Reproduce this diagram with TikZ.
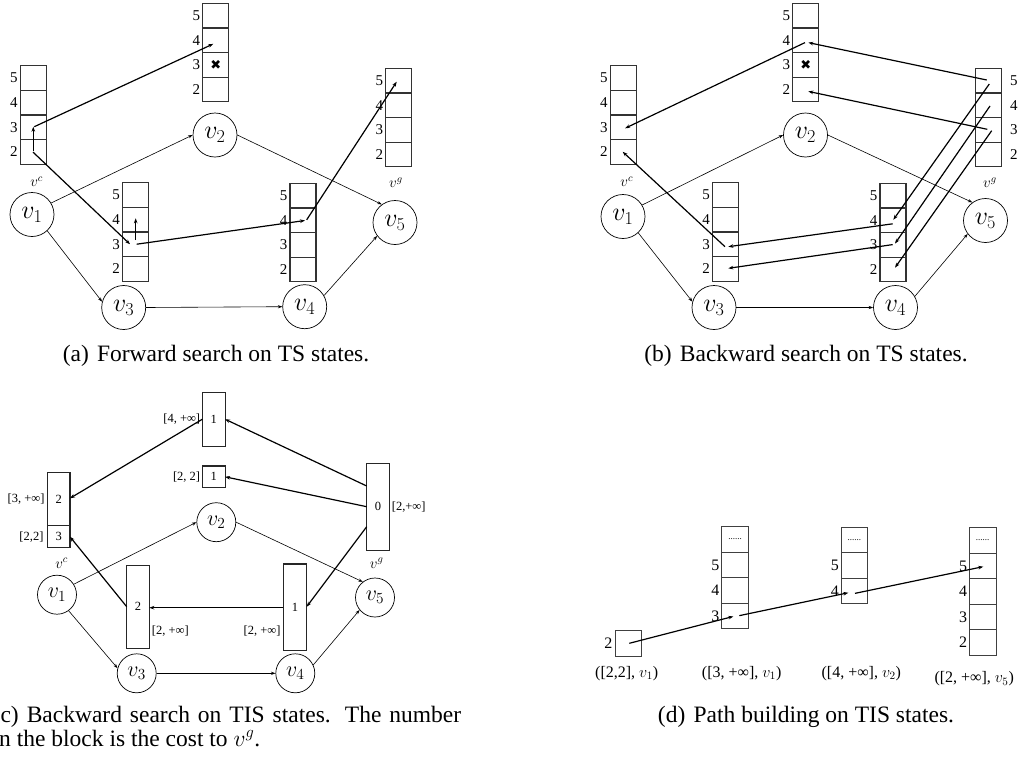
\documentclass[tikz,border=0pt]{standalone}
\usepackage{fix-cm}
\usepackage{fontspec}
\setmainfont{Liberation Serif}
\newfontfamily\dejavu{DejaVu Sans}
\usetikzlibrary{arrows.meta,calc}
\newcommand{\blkL}[4]{%
  \foreach \l [count=\i] in {#4} {%
    \node[cell] (#1-\l) at (#2,{#3+(\i-0.5)*24.6}) {};
    \node[clab,anchor=east] at ([xshift=-2.5pt]#1-\l.west) {\l};
  }}
\newcommand{\blkR}[4]{%
  \foreach \l [count=\i] in {#4} {%
    \node[cell] (#1-\l) at (#2,{#3+(\i-0.5)*24.6}) {};
    \node[clab,anchor=west] at ([xshift=8pt]#1-\l.east) {\l};
  }}
\newcommand{\blkD}[4]{%
  \node[dcell,font=\fontsize{9}{9}\selectfont] (#1-top) at (#2,{#3+12.75}) {......};
  \foreach \l [count=\i] in {#4} {%
    \node[dcell] (#1-\l) at (#2,{#3+(\i+0.5)*25.5}) {};
    \node[dlab,anchor=east] at ([xshift=-2pt]#1-\l.west) {\l};
  }}
\begin{document}
\begin{tikzpicture}[x=1pt,y=-1pt,
  cell/.style={draw=black!80, line width=1.2pt, minimum width=26pt, minimum height=24.6pt, inner sep=0pt, outer sep=0pt},
  dcell/.style={draw=black!75, line width=0.8pt, minimum width=26.7pt, minimum height=25.5pt, inner sep=0pt, outer sep=0pt},
  clab/.style={inner sep=0pt, font=\fontsize{15}{15}\selectfont},
  dlab/.style={inner sep=0pt, font=\fontsize{16}{16}\selectfont},
  dcap/.style={inner sep=0pt, font=\fontsize{16}{16}\selectfont},
  vtx/.style={circle, draw, line width=0.7pt, minimum size=44pt, inner sep=0pt, font=\fontsize{26}{26}\selectfont},
  cvtx/.style={vtx, minimum size=39pt, font=\fontsize{22}{22}\selectfont},
  vlab/.style={inner sep=0pt, font=\fontsize{15}{15}\selectfont},
  gedge/.style={line width=0.6pt, -{Stealth[length=4.5pt,width=3.2pt]}},
  trail/.style={line width=1.2pt, -{Stealth[length=5pt,width=3.6pt]}},
  tis/.style={draw=black!85, line width=1.1pt, inner sep=0pt, outer sep=0pt, font=\fontsize{12.5}{12.5}\selectfont},
  tlab/.style={inner sep=0pt, font=\fontsize{12.5}{12.5}\selectfont},
  captxt/.style={inner sep=0pt, font=\fontsize{23.5}{23.5}\selectfont},
  xmark/.style={inner sep=0pt, font=\dejavu\fontsize{13}{13}\selectfont}
]
\useasboundingbox (0,0) rectangle (1021,758);

% ---------------- Panel (a) ----------------
\blkL{aC}{33.3}{65.7}{5,4,3,2}
\blkL{aT}{215.7}{3.3}{5,4,3,2}
\node[xmark] (ax) at (aT-3.center) {✖};
\blkL{aG}{398.8}{68.3}{5,4,3,2}
\blkL{aL}{135.5}{182.7}{5,4,3,2}
\blkL{aR}{303}{183.3}{5,4,3,2}
\node[vtx] (a1) at (32,214.5) {$v_1$};
\node[vtx] (a2) at (215,135) {$v_2$};
\node[vtx] (a3) at (123.7,307.5) {$v_3$};
\node[vtx] (a4) at (304.7,306.7) {$v_4$};
\node[vtx] (a5) at (395,222.5) {$v_5$};
\node[vlab] (ac) at (36.7,181.7) {$v^c$};
\node[vlab] (ag) at (396,183) {$v^g$};
\draw[gedge] (a1.31) -- (a2.180);
\draw[gedge] (a2.0) -- (a5.126);
\draw[gedge] (a1.-47) -- (a3.165);
\draw[gedge] (a3.east) -- (a4.west);
\draw[gedge] (a4.30) -- (a5.217);
\draw[trail] ($(aC-2.center)+(0,-1)$) -- ($(aC-3.center)+(0,-0.5)$);
\draw[trail] ($(aC-3.center)+(1,-0.5)$) -- ($(aT-4.center)+(-2.4,3.7)$);
\draw[trail] ($(aC-2.center)+(-0.3,0.3)$) -- ($(aL-3.center)+(-5.5,0)$);
\draw[trail] ($(aL-3.center)+(0.2,-4.2)$) -- ($(aL-4.center)+(0.2,-1.3)$);
\draw[trail] ($(aL-3.center)+(1.2,0)$) -- ($(aR-4.center)+(2,0.3)$);
\draw[trail] ($(aR-4.center)+(3.7,-0.4)$) -- ($(aG-5.center)+(-2.1,1.1)$);
\node[captxt, anchor=base] (capa) at (216,361) {(a)\hspace{0.35em}Forward search on TS states.};

% ---------------- Panel (b) ----------------
\blkL{bC}{623.3}{65.7}{5,4,3,2}
\blkL{bT}{805.7}{3.3}{5,4,3,2}
\node[xmark] (bx) at (bT-3.center) {✖};
\blkR{bG}{988.8}{68.3}{5,4,3,2}
\blkL{bL}{725.5}{182.7}{5,4,3,2}
\blkL{bR}{893}{183.3}{5,4,3,2}
\node[vtx] (b1) at (623,216.5) {$v_1$};
\node[vtx] (b2) at (805.5,135) {$v_2$};
\node[vtx] (b3) at (714,307.5) {$v_3$};
\node[vtx] (b4) at (895.5,307.5) {$v_4$};
\node[vtx] (b5) at (985.5,220.5) {$v_5$};
\node[vlab] (bc) at (626.7,181.7) {$v^c$};
\node[vlab] (bg) at (990,183) {$v^g$};
\draw[gedge] (b1.31) -- (b2.180);
\draw[gedge] (b2.0) -- (b5.126);
\draw[gedge] (b1.-47) -- (b3.165);
\draw[gedge] (b3.east) -- (b4.west);
\draw[gedge] (b4.30) -- (b5.217);
\draw[trail] ($(bG-5.center)+(-2.1,-0.6)$) -- ($(bT-4.center)+(2.6,2.4)$);
\draw[trail] ($(bG-3.center)+(-1.5,-0.5)$) -- ($(bT-2.center)+(2.6,2)$);
\draw[trail] ($(bT-4.center)+(-0.7,2.4)$) -- ($(bC-3.center)+(1.7,1.1)$);
\draw[trail] ($(bL-3.center)+(-0.5,2.5)$) -- ($(bC-2.center)+(-0.6,0)$);
\draw[trail] ($(bR-4.center)+(-0.3,3.6)$) -- ($(bL-3.center)+(2.8,2.5)$);
\draw[trail] ($(bR-3.center)+(-0.3,-0.2)$) -- ($(bL-2.center)+(2.8,-0.5)$);
\draw[trail] ($(bG-5.center)+(0.5,3.4)$) -- ($(bR-4.center)+(0.3,-0.4)$);
\draw[trail] ($(bG-4.center)+(1.2,0.8)$) -- ($(bR-3.center)+(2,-1.2)$);
\draw[trail] ($(bG-3.center)+(2.9,0.9)$) -- ($(bR-2.center)+(2,-1.7)$);
\node[captxt, anchor=base] (capb) at (806,361) {(b)\hspace{0.35em}Backward search on TS states.};

% ---------------- Panel (c) ----------------
\node[tis, minimum width=22.7pt, minimum height=53.7pt] (cT) at (213.7,419.2) {1};
\node[tis, minimum width=22.7pt, minimum height=21.7pt] (cS) at (213.7,476.8) {1};
\node[tis, minimum width=22.3pt, minimum height=53.4pt] (cLu) at (58.8,499) {2};
\node[tis, minimum width=22.3pt, minimum height=22pt] (cLd) at (58.8,536.7) {3};
\node[tis, minimum width=22.6pt, minimum height=86.7pt] (cG) at (378,506.7) {0};
\node[tis, minimum width=22.6pt, minimum height=83.3pt] (cML) at (138,606.7) {2};
\node[tis, minimum width=23.4pt, minimum height=86.7pt] (cMR) at (295,607.3) {1};
\node[tlab, anchor=east] (lT) at ([xshift=-2pt]cT.west) {[4, +∞]};
\node[tlab, anchor=east] (lS) at ([xshift=-2pt]cS.west) {[2, 2]};
\node[tlab, anchor=east] (lLu) at ([xshift=-3pt]cLu.west) {[3, +∞]};
\node[tlab, anchor=east] (lLd) at ([xshift=-4pt]cLd.west) {[2,2]};
\node[tlab, anchor=west] (lG) at ([xshift=2.4pt]cG.east) {[2,+∞]};
\node[tlab, anchor=west] (lML) at ($(cML.east)+(2.4,24)$) {[2, +∞]};
\node[tlab, anchor=east] (lMR) at ($(cMR.west)+(-2.6,23.4)$) {[2, +∞]};
\node[cvtx] (c1) at (57,594.7) {$v_1$};
\node[cvtx] (c2) at (216.3,522.2) {$v_2$};
\node[cvtx] (c3) at (136.7,673.3) {$v_3$};
\node[cvtx] (c4) at (295.3,673.3) {$v_4$};
\node[cvtx] (c5) at (375,597.5) {$v_5$};
\node[vlab] (cc) at (61.7,563.3) {$v^c$};
\node[vlab] (cg) at (376.7,563.3) {$v^g$};
\draw[gedge] (c1.32) -- (c2.180);
\draw[gedge] (c2.0) -- (c5.128);
\draw[gedge] (c1.-54) -- (c3.165);
\draw[gedge] (c3.east) -- (c4.west);
\draw[gedge] (c4.25) -- (c5.219);
\draw[trail] ($(cG.center)+(-11.3,-20.7)$) -- (cT.east);
\draw[trail] (cG.west) -- (cS.east);
\draw[trail] (cT.west) -- ($(cLu.east)+(0,-0.7)$);
\draw[trail] (cML.west) -- (cLd.east);
\draw[trail] ($(cMR.west)+(0,0.4)$) -- ($(cML.east)+(0,1)$);
\draw[trail] ($(cG.center)+(-11.3,20)$) -- ($(cMR.east)+(0,-0.6)$);
\node[captxt, anchor=base west] (capc1) at (-7.5,722) {\makebox[468.5pt][s]{(c) Backward search on TIS states. The number}};
\node[captxt, anchor=base west] (capc2) at (-7.5,746) {in the block is the cost to $v^g$.};

% ---------------- Panel (d) ----------------
\node[dcell] (dA) at (628.3,643.3) {};
\node[dlab, anchor=east] (dA2) at ([xshift=-2.5pt]dA.west) {2};
\blkD{dB}{735}{526.7}{5,4,3}
\blkD{dC}{854.3}{527.3}{5,4}
\blkD{dD}{982.7}{527.7}{5,4,3,2}
\node[dcap] (dcA) at (626.7,673.3) {([2,2], $v_1$)};
\node[dcap] (dcB) at (741.7,673.3) {([3, +∞], $v_1$)};
\node[dcap] (dcC) at (861.3,673.3) {([4, +∞], $v_2$)};
\node[dcap] (dcD) at (974.2,679) {([2, +∞], $v_5$)};
\draw[trail] ($(dA.center)+(1,0)$) -- ($(dB-3.center)+(-1.7,0.5)$);
\draw[trail] ($(dB-3.center)+(4.3,-0.3)$) -- ($(dC-4.center)+(-6,1.7)$);
\draw[trail] ($(dC-4.center)+(0.7,2.3)$) -- ($(dD-5.center)+(0.6,0.7)$);
\node[captxt, anchor=base] (capd) at (806,722) {(d)\hspace{0.35em}Path building on TIS states.};
\end{tikzpicture}
\end{document}
